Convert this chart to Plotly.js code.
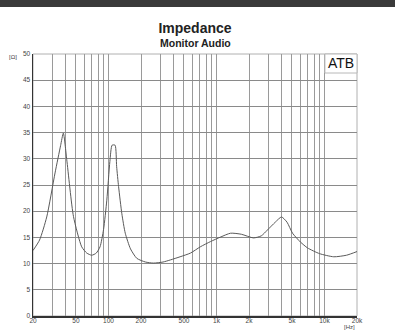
<!DOCTYPE html>
<html>
<head>
<meta charset="utf-8">
<script src="https://cdn.plot.ly/plotly-3.0.1.min.js"></script>
<style>
  html, body { margin: 0; padding: 0; background: #ffffff; }
  #chart { width: 395px; height: 335px; }
</style>
</head>
<body>
<div id="chart"></div>
<script>
// Impedance curve (Hz, ohms)
const freqHz = [20, 23, 26.8, 32, 36, 38.2, 41.1, 47.4, 56.5, 63, 70, 77, 83.5, 90, 96.5, 103, 108, 115, 119, 124, 133, 143, 160, 183, 220, 260, 320, 374, 460, 573, 708, 880, 1100, 1350, 1700, 2200, 2600, 2960, 3500, 4000, 4500, 5060, 6000, 6960, 9000, 12200, 16000, 20000];
const impedanceOhm = [12.5, 14.5, 18.9, 27.3, 32.5, 34.9, 29.8, 19.0, 13.2, 12.0, 11.6, 12.0, 13.2, 16.5, 22.1, 29.5, 32.6, 32.6, 28.5, 24.7, 19.5, 15.8, 12.8, 11.0, 10.3, 10.1, 10.3, 10.7, 11.3, 12.0, 13.2, 14.2, 15.1, 15.8, 15.6, 14.9, 15.3, 16.4, 17.9, 18.9, 17.9, 15.8, 14.1, 13.0, 11.9, 11.3, 11.6, 12.3];

const gridFreqs = [20,30,40,50,60,70,80,90,100,200,300,400,500,600,700,800,900,1000,2000,3000,4000,5000,6000,7000,8000,9000,10000,20000];
const freqLabels = {20:'20',50:'50',100:'100',200:'200',500:'500',1000:'1k',2000:'2k',5000:'5k',10000:'10k',20000:'20k'};
const yTicks = [0,5,10,15,20,25,30,35,40,45,50];

const trace = {
  x: freqHz, y: impedanceOhm, type: 'scatter', mode: 'lines',
  line: {color: '#5a5a5a', width: 1, shape: 'spline', smoothing: 0.6},
  hoverinfo: 'skip'
};

const layout = {
  width: 395, height: 335,
  margin: {l: 33, r: 38, t: 54, b: 19},
  paper_bgcolor: '#ffffff', plot_bgcolor: '#ffffff',
  showlegend: false,
  font: {family: 'Liberation Sans, Arial, sans-serif', color: '#444'},
  title: {text: '<b>Impedance</b>', font: {size: 14, color: '#222'}, x: 0.5, xanchor: 'center', y: 1 - 28/335, yanchor: 'middle', xref: 'paper'},
  xaxis: {
    type: 'log', range: [Math.log10(20), Math.log10(20000)],
    tickmode: 'array', tickvals: gridFreqs,
    ticktext: gridFreqs.map(f => freqLabels[f] || ''),
    showgrid: true, gridcolor: '#9a9a9a', gridwidth: 1,
    ticks: '', tickfont: {size: 6.5, color: '#444'}, ticklabelstandoff: -3,
    showline: true, linecolor: '#333', linewidth: 2, mirror: false,
    zeroline: false, fixedrange: true
  },
  yaxis: {
    range: [0, 50], tickmode: 'array', tickvals: yTicks,
    showgrid: true, gridcolor: '#8a8a8a', gridwidth: 1,
    ticks: '', tickfont: {size: 6.5, color: '#444'},
    showline: true, linecolor: '#333', linewidth: 1.5,
    zeroline: false, fixedrange: true
  },
  shapes: [
    {type: 'rect', xref: 'paper', yref: 'paper', x0: -0.2, x1: 1.2, y0: 1 + 47/262, y1: 1 + 54/262 + 0.01, fillcolor: '#3a3a3a', line: {width: 0}, layer: 'above'},
    {type: 'rect', xref: 'paper', yref: 'paper', x0: 0, x1: 1, y0: 0, y1: 1, line: {color: '#b0b0b0', width: 1}, fillcolor: 'rgba(0,0,0,0)', layer: 'below'},
    {type: 'rect', xref: 'paper', yref: 'paper', x0: 1 - 32/323, x1: 1, y0: 1 - 19/262, y1: 1, fillcolor: '#ffffff', line: {color: '#b8b8b8', width: 1}, layer: 'above'}
  ],
  annotations: [
    {text: '<b>Monitor Audio</b>', xref: 'paper', yref: 'paper', x: 0.5, y: 1 + 11/262, xanchor: 'center', yanchor: 'middle', showarrow: false, font: {size: 10.5, color: '#222'}},
    {text: 'ATB', xref: 'paper', yref: 'paper', x: 1 - 16/323, y: 1 - 9.5/262, xanchor: 'center', yanchor: 'middle', showarrow: false, font: {size: 14, color: '#111'}},
    {text: '[Ω]', xref: 'paper', yref: 'paper', x: -20/323, y: 1 - 3/262, xanchor: 'center', yanchor: 'middle', showarrow: false, font: {size: 6, color: '#444'}},
    {text: '[Hz]', xref: 'paper', yref: 'paper', x: 1 - 7/323, y: -11/262, xanchor: 'center', yanchor: 'middle', showarrow: false, font: {size: 6, color: '#444'}}
  ]
};

Plotly.newPlot('chart', [trace], layout, {displayModeBar: false, staticPlot: true});
</script>
</body>
</html>
